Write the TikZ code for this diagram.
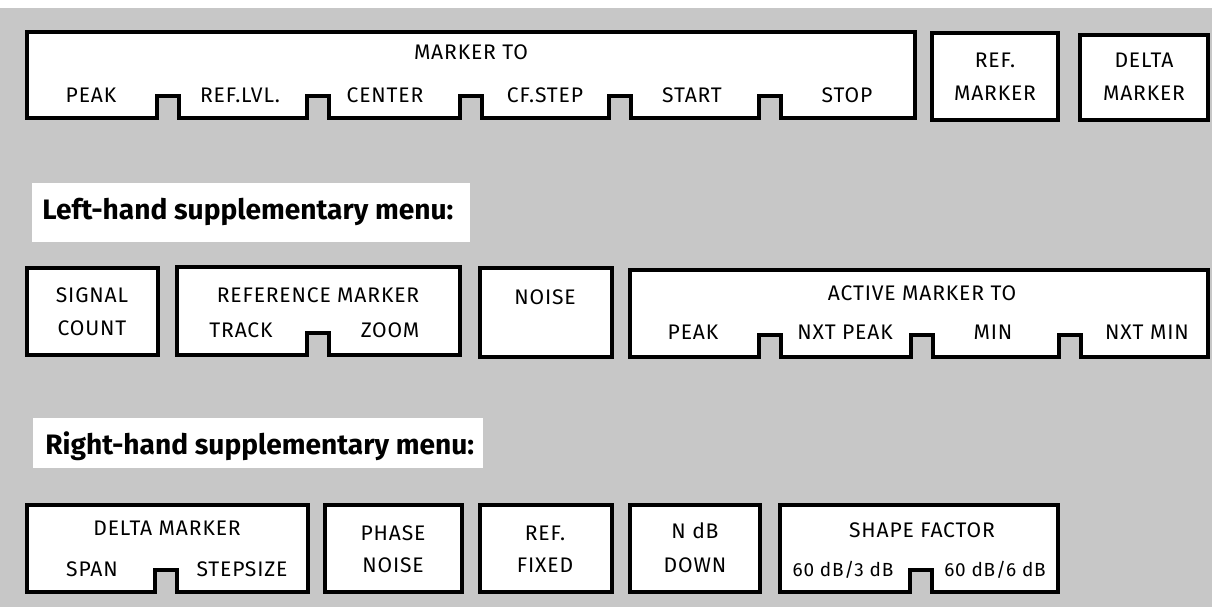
\documentclass[tikz,border=0pt]{standalone}
\usepackage{fontspec}
\setmainfont{Fira Sans}
\newfontfamily\keyfont[LetterSpace=4]{Fira Sans}
\usetikzlibrary{calc}

\definecolor{screen}{gray}{0.78}

% box with notches cut into its bottom edge (notch centres right to left)
\newcommand{\notchbox}[5]{%
  \draw[frame] (#1,#2) -- (#3,#2) -- (#3,#4)
    \foreach \c in {#5} { -- (\c+11,#4) -- (\c+11,#4-22) -- (\c-11,#4-22) -- (\c-11,#4) }
    -- (#1,#4) -- cycle;
}

\begin{document}
\begin{tikzpicture}[
    x=0.025cm, y=-0.025cm,
    frame/.style={draw, line width=2.8pt, fill=white, line join=miter},
    key/.style={font=\keyfont\fontsize{15}{17}\selectfont, inner sep=0pt},
    small key/.style={key, font=\keyfont\fontsize{13.5}{16}\selectfont},
    head/.style={font=\bfseries\fontsize{20}{24}\selectfont, anchor=west, inner sep=0pt}
]
\fill[white] (0,0) rectangle (1212,607);
\fill[screen] (0,8) rectangle (1212,607);
\useasboundingbox (0,0) rectangle (1212,607);

% 1. MAIN MENU
\notchbox{27}{32}{915}{118}{770,620,471,318,168}
\draw[frame] (932,33) rectangle (1058,120);
\draw[frame] (1080,35) rectangle (1208,120);

\node[key] (mto) at (471,52) {MARKER TO};
\node[key] (mpeak) at (91,95) {PEAK};
\node[key] (mrefl) at (240,95) {REF.LVL.};
\node[key] (mcent) at (385,95) {CENTER};
\node[key] (mcfst) at (545,95) {CF.STEP};
\node[key] (mstrt) at (692,95) {START};
\node[key] (mstop) at (847,95) {STOP};
\node[key] (refa) at (995,60) {REF.};
\node[key] (refb) at (995,93) {MARKER};
\node[key] (dela) at (1144,60) {DELTA};
\node[key] (delb) at (1144,93) {MARKER};

% 2. LEFT-HAND SUPPLEMENTARY MENU
\fill[white] (32,183) rectangle (470,242);
\node[head] (lefthd) at (42,212) {Left-hand supplementary menu:};

\draw[frame] (27,268) rectangle (158,355);
\notchbox{177}{267}{460}{355}{318}
\draw[frame] (480,268) rectangle (612,357);
\notchbox{630}{270}{1208}{357}{1070,922,770}

\node[key] (siga) at (92,295) {SIGNAL};
\node[key] (sigb) at (92,328) {COUNT};
\node[key] (rmk) at (318,295) {REFERENCE MARKER};
\node[key] (rtrk) at (241,330) {TRACK};
\node[key] (rzoom) at (390,330) {ZOOM};
\node[key] (noise) at (545,297) {NOISE};
\node[key] (amto) at (922,293) {ACTIVE MARKER TO};
\node[key] (apeak) at (693,332) {PEAK};
\node[key] (anpk) at (845,332) {NXT PEAK};
\node[key] (amin) at (993,332) {MIN};
\node[key] (anmin) at (1147,332) {NXT MIN};

% 3. RIGHT-HAND SUPPLEMENTARY MENU
\fill[white] (33,418) rectangle (483,468);
\node[head] (righthd) at (45,446) {Right-hand supplementary menu:};

\notchbox{27}{505}{308}{592}{166}
\draw[frame] (325,505) rectangle (462,592);
\draw[frame] (480,505) rectangle (612,592);
\draw[frame] (630,505) rectangle (760,592);
\notchbox{780}{505}{1058}{592}{921}

\node[key] (dmk) at (167,528) {DELTA MARKER};
\node[key] (dspan) at (92,569) {SPAN};
\node[key] (dstep) at (242,569) {STEPSIZE};
\node[key] (pha) at (393,533) {PHASE};
\node[key] (phb) at (393,565) {NOISE};
\node[key] (rfa) at (545,533) {REF.};
\node[key] (rfb) at (545,565) {FIXED};
\node[key] (nda) at (695,531) {N dB};
\node[key] (ndb) at (695,565) {DOWN};
\node[key] (sfac) at (922,530) {SHAPE FACTOR};
\node[small key] (sf3) at (843,570) {60 dB/3 dB};
\node[small key] (sf6) at (995,570) {60 dB/6 dB};
\end{tikzpicture}
\end{document}
